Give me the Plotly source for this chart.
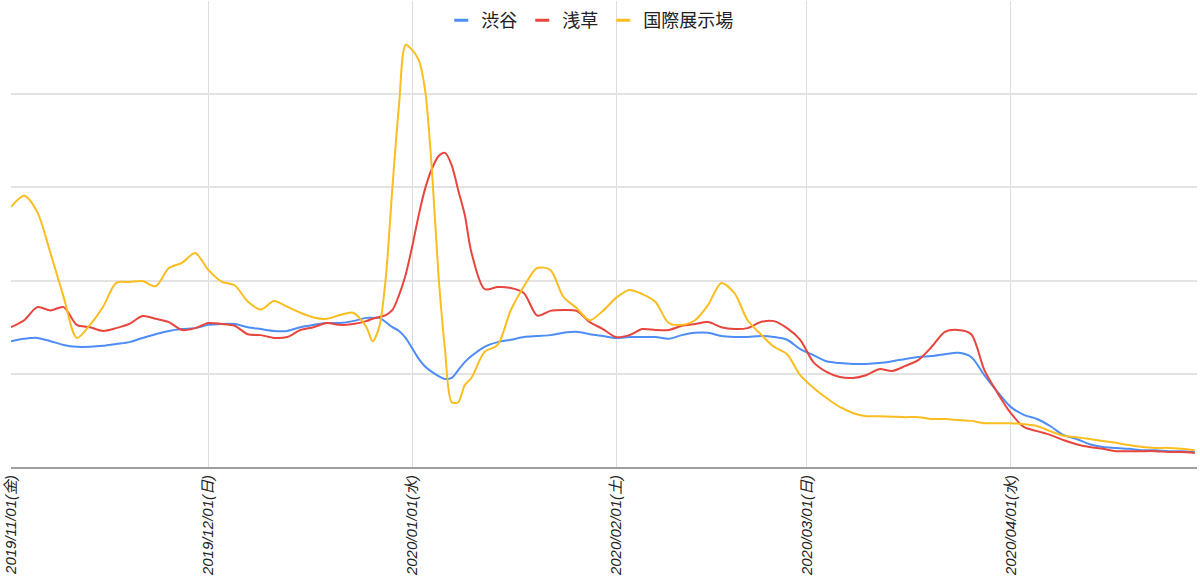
import plotly.graph_objects as go

dates = [
    "2019-11-01", "2019-11-03", "2019-11-05", "2019-11-07", "2019-11-09", "2019-11-11", "2019-11-13",
    "2019-11-15", "2019-11-17", "2019-11-19", "2019-11-21", "2019-11-23", "2019-11-25", "2019-11-27",
    "2019-11-29",
    "2019-12-01", "2019-12-03", "2019-12-05", "2019-12-07", "2019-12-09", "2019-12-11", "2019-12-13",
    "2019-12-15", "2019-12-17", "2019-12-19", "2019-12-21", "2019-12-23", "2019-12-25",
    "2019-12-26", "2019-12-27", "2019-12-28", "2019-12-29", "2019-12-30", "2019-12-31",
    "2020-01-01", "2020-01-02", "2020-01-03", "2020-01-04", "2020-01-05", "2020-01-06", "2020-01-07",
    "2020-01-08", "2020-01-09", "2020-01-10",
    "2020-01-12", "2020-01-14", "2020-01-16", "2020-01-18", "2020-01-20", "2020-01-22", "2020-01-24",
    "2020-01-26", "2020-01-28", "2020-01-30",
    "2020-02-01", "2020-02-03", "2020-02-05", "2020-02-07", "2020-02-09", "2020-02-11", "2020-02-13",
    "2020-02-15", "2020-02-17", "2020-02-19", "2020-02-21", "2020-02-23", "2020-02-25", "2020-02-27",
    "2020-02-29",
    "2020-03-02", "2020-03-04", "2020-03-06", "2020-03-08", "2020-03-10", "2020-03-12", "2020-03-14",
    "2020-03-16", "2020-03-18", "2020-03-20", "2020-03-22", "2020-03-24", "2020-03-26", "2020-03-28",
    "2020-03-30",
    "2020-04-01", "2020-04-03", "2020-04-05", "2020-04-07", "2020-04-09", "2020-04-11", "2020-04-13",
    "2020-04-15", "2020-04-17", "2020-04-19", "2020-04-21", "2020-04-23", "2020-04-25", "2020-04-27",
    "2020-04-29",
]

shibuya = [
    27.0, 27.5, 27.7, 27.0, 26.2, 25.8, 25.8, 26.0, 26.4, 26.8, 27.7, 28.5, 29.2, 29.6, 29.8,
    30.5, 30.7, 30.7, 30.0, 29.6, 29.2, 29.2, 30.0, 30.5, 30.9, 30.9, 31.3, 32.0,
    32.0, 32.0, 31.1, 30.0, 29.2, 27.7,
    25.5, 23.2, 21.5, 20.4, 19.5, 18.9, 19.1, 20.8, 22.5, 23.8,
    25.8, 26.8, 27.3, 27.9, 28.1, 28.3, 28.8, 29.0, 28.5, 28.1,
    27.7, 27.9, 27.9, 27.9, 27.5, 28.3, 28.8, 28.8, 28.1, 27.9, 27.9, 28.1, 27.9, 27.3, 25.3,
    24.0, 22.7, 22.3, 22.1, 22.1, 22.3, 22.7, 23.2, 23.6, 23.8, 24.2, 24.5, 23.6, 19.7, 16.1,
    12.9, 11.2, 10.3, 8.8, 6.9, 6.0, 4.9, 4.3, 4.1, 3.9, 3.6, 3.6, 3.4, 3.4, 3.2,
]

asakusa = [
    30.0, 31.5, 34.3, 33.6, 34.3, 30.5, 30.0, 29.2, 29.8, 30.7, 32.4, 31.8, 31.1, 29.4, 29.8,
    30.9, 30.7, 30.3, 28.5, 28.3, 27.7, 27.9, 29.4, 30.0, 30.9, 30.5, 30.7, 31.3,
    31.8, 32.2, 32.6, 33.7, 36.9, 41.2,
    47.3, 54.1, 59.9, 64.0, 66.7, 67.4, 64.8, 59.4, 54.1, 46.1,
    38.2, 38.6, 38.4, 37.3, 32.5, 33.5, 33.7, 33.5, 31.1, 29.6,
    27.9, 28.3, 29.6, 29.4, 29.4, 30.3, 30.7, 31.1, 30.0, 29.6, 29.8, 31.1, 31.3, 29.8, 27.3,
    22.5, 20.4, 19.3, 19.1, 19.7, 21.0, 20.6, 21.7, 23.0, 25.8, 29.0, 29.4, 28.5, 20.8, 15.9,
    11.6, 8.6, 7.7, 6.9, 5.8, 4.9, 4.3, 3.9, 3.4, 3.4, 3.4, 3.4, 3.2, 3.2, 3.0,
]

kokusai = [
    55.8, 58.2, 54.7, 45.9, 36.5, 27.7, 30.5, 34.4, 39.5, 39.7, 39.9, 38.8, 42.7, 43.8, 45.9,
    42.3, 39.8, 39.0, 35.5, 33.8, 35.6, 34.4, 33.1, 32.1, 31.8, 32.6, 33.1, 30.1,
    27.0, 30.1, 40.8, 60.1, 77.7, 90.6,
    89.5, 87.3, 80.5, 63.7, 41.2, 25.1, 13.9, 13.9, 17.6, 19.1,
    24.7, 26.2, 33.7, 38.8, 42.7, 42.3, 36.5, 34.1, 31.5, 33.5,
    36.3, 38.0, 37.1, 35.4, 30.9, 30.5, 31.5, 34.8, 39.5, 37.3, 31.5, 28.5, 25.8, 24.2, 19.7,
    17.0, 14.8, 12.9, 11.6, 10.9, 10.9, 10.8, 10.7, 10.7, 10.3, 10.3, 10.1, 9.9, 9.4, 9.4,
    9.4, 9.2, 8.8, 7.7, 6.7, 6.4, 6.0, 5.6, 5.2, 4.7, 4.3, 4.1, 4.1, 3.9, 3.6,
]

series_names = ["渋谷", "浅草", "国際展示場"]
series_colors = ["#4d8df6", "#e8453c", "#fbbd1f"]

tick_dates = ["2019-11-01", "2019-12-01", "2020-01-01", "2020-02-01", "2020-03-01", "2020-04-01"]
tick_labels = ["2019/11/01(金)", "2019/12/01(日)", "2020/01/01(水)", "2020/02/01(土)",
               "2020/03/01(日)", "2020/04/01(水)"]

FONT = "Arial, 'Liberation Sans', 'Noto Sans CJK JP', sans-serif"

fig = go.Figure()
for name, vals, col in zip(series_names, [shibuya, asakusa, kokusai], series_colors):
    fig.add_trace(go.Scatter(
        x=dates, y=vals, mode="lines", name=name,
        line=dict(color=col, width=2, shape="spline", smoothing=0.8),
        showlegend=False, hoverinfo="x+y+name",
    ))
    fig.add_trace(go.Scatter(
        x=[None], y=[None], mode="markers", name=name,
        marker=dict(symbol="line-ew", size=10, line=dict(color=col, width=3)),
        showlegend=True,
    ))

fig.update_layout(
    width=1200, height=582,
    margin=dict(l=11, r=3, t=1, b=115, autoexpand=False),
    paper_bgcolor="white", plot_bgcolor="white",
    font=dict(family=FONT, color="#222222"),
    legend=dict(
        orientation="h", x=0.488, xanchor="center", y=0.958, yanchor="middle",
        font=dict(size=18, color="#222222", family=FONT),
        bgcolor="rgba(0,0,0,0)", itemwidth=30, traceorder="normal",
    ),
    xaxis=dict(
        type="date", range=["2019-11-01", "2020-04-29 08:00"],
        tickmode="array", tickvals=tick_dates, ticktext=tick_labels,
        tickangle=-90, tickfont=dict(size=15, color="#222222", family=FONT, style="italic"),
        showgrid=True, gridcolor="#dddddd", gridwidth=1,
        showline=True, linecolor="#9e9e9e", linewidth=2,
        ticks="", zeroline=False, automargin=False,
    ),
    yaxis=dict(
        range=[0, 100], tickvals=[0, 20, 40, 60, 80, 100], showticklabels=False,
        showgrid=True, gridcolor="#e3e3e3", gridwidth=1.5, zeroline=False,
        ticks="", showline=False, automargin=False,
    ),
)

fig.write_html(
    "out.html",
    config={"displayModeBar": False},
    post_script="document.body.style.margin='0';document.body.style.padding='0';",
)
